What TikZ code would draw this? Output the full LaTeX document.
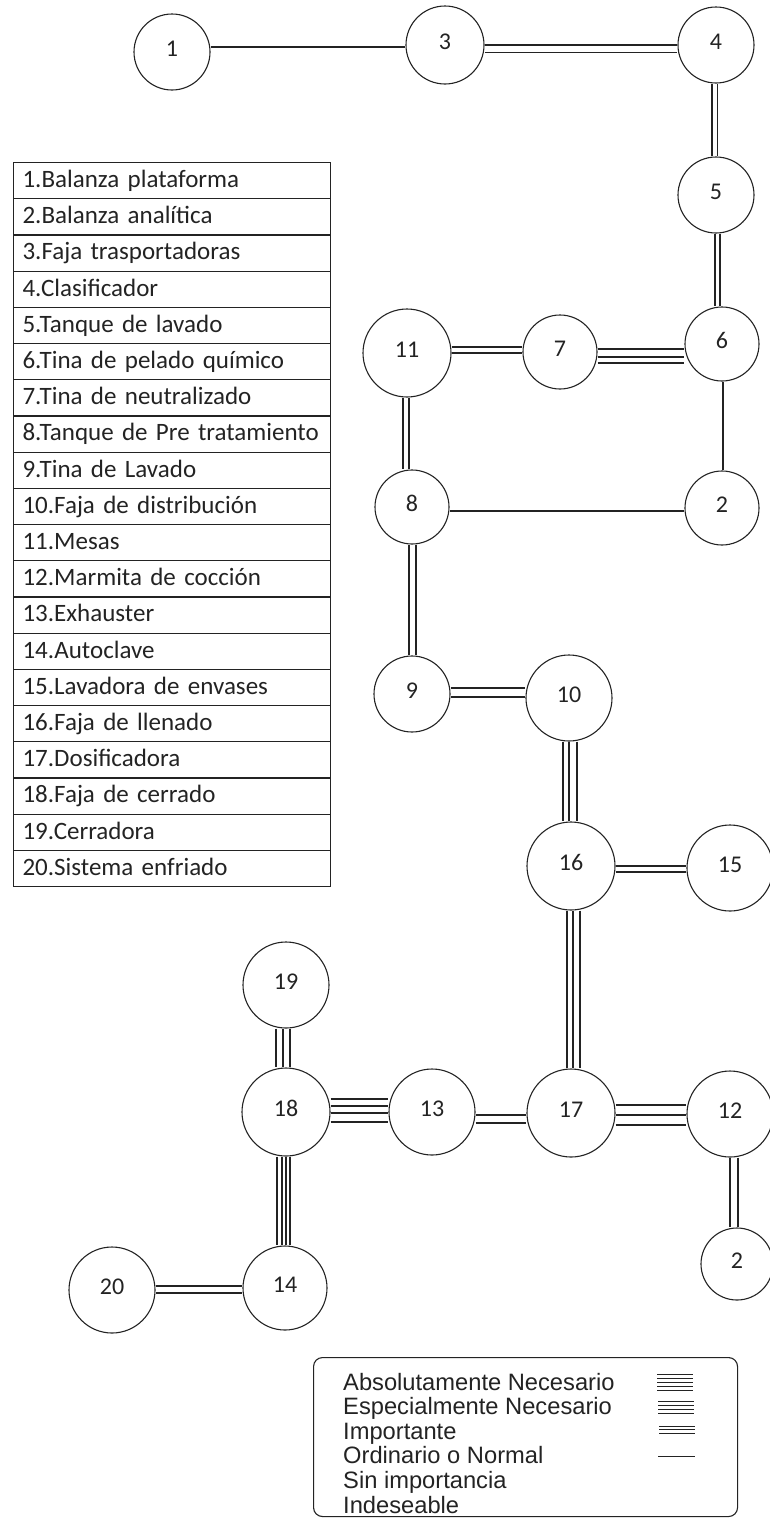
\documentclass[tikz,border=0pt]{standalone}
\usepackage{fontspec}
\setmainfont{Carlito}
\newfontfamily\legendfont{Liberation Sans}
\usetikzlibrary{calc}
\definecolor{ink}{RGB}{35,35,35}
\begin{document}
\begin{tikzpicture}[x=1pt,y=-1pt,
  station/.style={circle,draw=ink,line width=1.1pt,inner sep=0pt,text=ink,
    text height=15pt,text depth=6pt,font=\fontsize{24}{24}\selectfont},
  link/.style={draw=ink,line width=1.1pt},
  rowcell/.style={draw=ink,line width=1.1pt,anchor=north west,text=ink,
    minimum height=36.2pt,text width=299pt,inner xsep=9pt,inner ysep=0pt,align=left,
    text height=17pt,text depth=3.2pt,font=\fontsize{25}{25}\selectfont},
  legendtext/.style={anchor=base west,inner sep=0pt,text=ink,
    font=\legendfont\fontsize{23.7}{24}\selectfont}]
\useasboundingbox (0,0) rectangle (769,1518);

% stations
\node[station,minimum size=76pt] (n1)  at (172,52)   {1};
\node[station,minimum size=78pt] (n3)  at (445,45)   {3};
\node[station,minimum size=76pt] (n4)  at (716,45)   {4};
\node[station,minimum size=76pt] (n5)  at (716,195)  {5};
\node[station,minimum size=74pt] (n6)  at (722,344)  {6};
\node[station,minimum size=74pt] (n7)  at (560,352)  {7};
\node[station,minimum size=88pt] (n11) at (407,353)  {11};
\node[station,minimum size=74pt] (n8)  at (412,507)  {8};
\node[station,minimum size=74pt] (n2a) at (722,508)  {2};
\node[station,minimum size=76pt] (n9)  at (412,694)  {9};
\node[station,minimum size=86pt] (n10) at (569,698)  {10};
\node[station,minimum size=88pt] (n16) at (571,866)  {16};
\node[station,minimum size=86pt] (n15) at (730,868)  {15};
\node[station,minimum size=86pt] (n19) at (286,985)  {19};
\node[station,minimum size=88pt] (n18) at (286,1112) {18};
\node[station,minimum size=86pt] (n13) at (432,1112) {13};
\node[station,minimum size=88pt] (n17) at (571,1113) {17};
\node[station,minimum size=86pt] (n12) at (730,1114) {12};
\node[station,minimum size=72pt] (n2b) at (737,1264) {2};
\node[station,minimum size=86pt] (n20) at (112,1290) {20};
\node[station,minimum size=84pt] (n14) at (285,1288) {14};

% horizontal links: one line per listed y
\foreach \a/\b/\ys in {n1/n3/{47}, n3/n4/{45,52.5}, n7/n6/{349,357,363},
    n11/n7/{347,353}, n8/n2a/{511}, n9/n10/{688,697}, n16/n15/{866,872},
    n13/n17/{1115,1123}, n17/n12/{1105,1115,1125}, n18/n13/{1099,1106,1113,1122},
    n20/n14/{1286,1293}}
  \foreach \y in \ys
    \draw[link] (\a.east |- 0,\y) -- (\b.west |- 0,\y);

% vertical links: one line per listed x
\foreach \a/\b/\xs in {n4/n5/{712,717.5}, n5/n6/{715,720}, n6/n2a/{723},
    n11/n8/{403,409}, n8/n9/{409,416}, n10/n16/{563,569,577},
    n16/n17/{567,573,580}, n19/n18/{276,283,290}, n18/n14/{277,282,286,290},
    n12/n2b/{730,738}}
  \foreach \x in \xs
    \draw[link] (\x,0 |- \a.south) -- (\x,0 |- \b.north);

% equipment list
\foreach \t [count=\i] in {1.Balanza plataforma, 2.Balanza analítica,
    3.Faja trasportadoras, 4.Clasificador, 5.Tanque de lavado,
    6.Tina de pelado químico, 7.Tina de neutralizado,
    8.Tanque de Pre tratamiento, 9.Tina de Lavado, 10.Faja de distribución,
    11.Mesas, 12.Marmita de cocción, 13.Exhauster, 14.Autoclave,
    15.Lavadora de envases, 16.Faja de llenado, 17.Dosificadora,
    18.Faja de cerrado, 19.Cerradora, 20.Sistema enfriado}
  \node[rowcell] (row\i) at (13,{162+36.2*(\i-1)}) {\t};

% legend
\node[draw=ink,line width=1.1pt,rounded corners=9pt,anchor=north west,
  minimum width=424pt,minimum height=159pt,inner sep=0pt] (legend) at (313,1357) {};
\node[legendtext] (lgA) at (343,1390)   {Absolutamente Necesario};
\node[legendtext] (lgE) at (343,1414.6) {Especialmente Necesario};
\node[legendtext] (lgI) at (343,1439.2) {Importante};
\node[legendtext] (lgO) at (343,1463.8) {Ordinario o Normal};
\node[legendtext] (lgX) at (343,1488.4) {Sin importancia};
\node[legendtext] (lgU) at (343,1513)   {Indeseable};
\begin{scope}[line width=0.9pt,draw=ink]
  \foreach \y in {1374,1378,1382,1386,1390} \draw[ink] (657,\y) -- (693,\y);
  \foreach \y in {1401,1405,1409,1413} \draw[ink] (658,\y) -- (694,\y);
  \foreach \y in {1426,1429.5,1433} \draw[ink] (659,\y) -- (695,\y);
  \draw[ink] (658,1456) -- (695,1456);
\end{scope}
\end{tikzpicture}
\end{document}
